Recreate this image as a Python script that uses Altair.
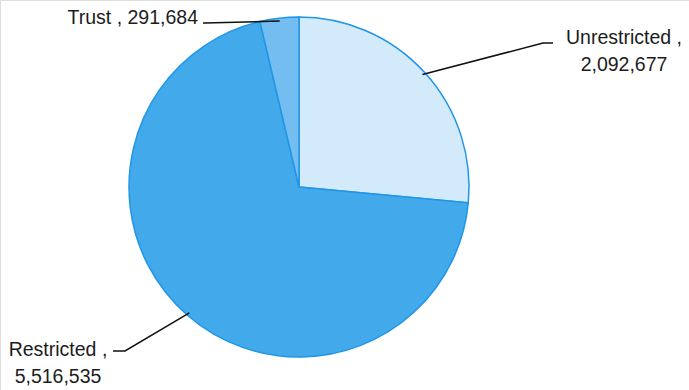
import math
import altair as alt
import pandas as pd

# ---- data ----
categories = ["Unrestricted", "Restricted", "Trust"]
values = [2092677, 5516535, 291684]
label_line1 = ["Unrestricted  ,", "Restricted ,", "Trust , 291,684"]
label_line2 = ["2,092,677", "5,516,535", ""]

# ---- styles / layout ----
fills = ["#d3eafa", "#42a9ea", "#74bdf0"]
CX, CY, R = 299, 187, 170
# leader elbow and outer end (pixels), text anchor (pixels), text alignment
elbows = [(543, 43), (125, 351), (205, 23)]
outers = [(553, 43), (113, 351), (203, 23)]
text_pos = [(624, 38), (58, 350), (198, 18)]
aligns = ["center", "center", "right"]
LINE_H = 27

df = pd.DataFrame({"cat": categories, "val": values, "ord": range(len(categories))})

total = sum(values)
rows_line = []
rows_text = []
cum = 0.0
for i, (c, v) in enumerate(zip(categories, values)):
    mid = (cum + v / 2) / total * 2 * math.pi
    cum += v
    ex = CX + (R - 3) * math.sin(mid)
    ey = CY - (R - 3) * math.cos(mid)
    pts = [outers[i], elbows[i], (ex, ey)]
    for k, (px, py) in enumerate(pts):
        rows_line.append({"cat": c, "k": k, "px": px, "py": py})
    rows_text.append({"t": label_line1[i], "px": text_pos[i][0], "py": text_pos[i][1], "al": aligns[i]})
    if label_line2[i]:
        rows_text.append({"t": label_line2[i], "px": text_pos[i][0], "py": text_pos[i][1] + LINE_H, "al": aligns[i]})

lines_df = pd.DataFrame(rows_line)
text_df = pd.DataFrame(rows_text)

pie = alt.Chart(df).mark_arc(radius=R, stroke="#2196e6", strokeWidth=1.5).encode(
    theta=alt.Theta("val:Q", stack=True),
    order=alt.Order("ord:Q"),
    color=alt.Color("cat:N", scale=alt.Scale(domain=categories, range=fills), legend=None),
    x=alt.value(CX),
    y=alt.value(CY),
)

leaders = alt.Chart(lines_df).mark_line(color="#111111", strokeWidth=1.5).encode(
    x=alt.X("px:Q", scale=None, axis=None),
    y=alt.Y("py:Q", scale=None, axis=None),
    detail="cat:N",
    order="k:Q",
)

def text_layer(al):
    return alt.Chart(text_df[text_df["al"] == al]).mark_text(
        font="Liberation Sans", fontSize=19.5, color="#1c1c1c", align=al, baseline="middle"
    ).encode(
        x=alt.X("px:Q", scale=None, axis=None),
        y=alt.Y("py:Q", scale=None, axis=None),
        text="t:N",
    )

chart = alt.layer(pie, leaders, text_layer("center"), text_layer("right")).properties(
    width=689, height=390, autosize=alt.AutoSizeParams(type="none"), padding=0
).configure_view(stroke=None).configure(background="white")

chart.save("out.html", embed_options={"renderer": "svg", "actions": False})
